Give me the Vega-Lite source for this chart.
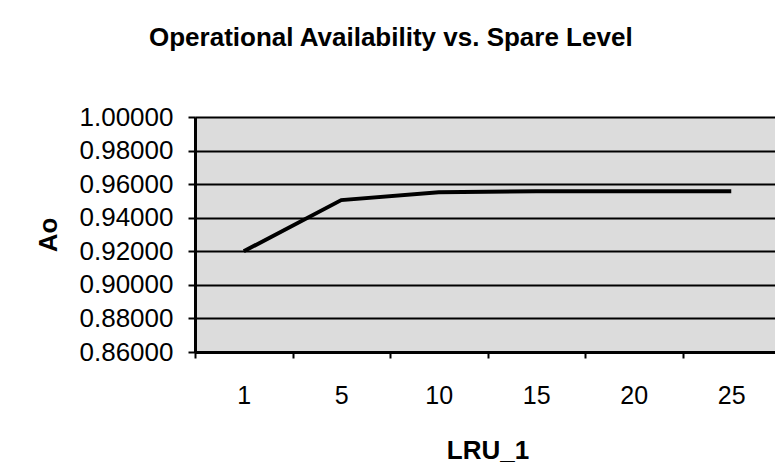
{
  "$schema": "https://vega.github.io/schema/vega-lite/v6.json",
  "autosize": "none",
  "padding": {"left": 195, "top": 117, "right": 0, "bottom": 123},
  "width": 585,
  "height": 235,
  "background": "white",
  "title": {
    "text": "Operational Availability vs. Spare Level",
    "anchor": "start",
    "frame": "group",
    "dx": -46,
    "offset": 32,
    "baseline": "alphabetic",
    "font": "Liberation Sans",
    "fontSize": 26,
    "fontWeight": "bold",
    "color": "black"
  },
  "config": {
    "view": {"fill": "#dcdcdc", "stroke": null},
    "font": "Liberation Sans"
  },
  "data": {
    "values": [
      {"LRU_1": 1, "Ao": 0.92},
      {"LRU_1": 5, "Ao": 0.9505},
      {"LRU_1": 10, "Ao": 0.9552},
      {"LRU_1": 15, "Ao": 0.9557},
      {"LRU_1": 20, "Ao": 0.9558},
      {"LRU_1": 25, "Ao": 0.9558}
    ]
  },
  "mark": {"type": "line", "color": "black", "strokeWidth": 4},
  "encoding": {
    "x": {
      "field": "LRU_1",
      "type": "ordinal",
      "sort": "ascending",
      "scale": {"paddingInner": 0, "paddingOuter": 0},
      "axis": {
        "title": "LRU_1",
        "labelAngle": 0,
        "tickBand": "extent",
        "tickSize": 6,
        "tickWidth": 2,
        "tickColor": "black",
        "domainColor": "black",
        "domainWidth": 3,
        "labelFont": "Liberation Sans",
        "labelFontSize": 25,
        "labelColor": "black",
        "labelPadding": 25,
        "titleFont": "Liberation Sans",
        "titleFontSize": 26,
        "titleFontWeight": "bold",
        "titleColor": "black",
        "titlePadding": 29,
        "grid": false
      }
    },
    "y": {
      "field": "Ao",
      "type": "quantitative",
      "scale": {"domain": [0.86, 1.0], "zero": false, "nice": false},
      "axis": {
        "title": "Ao",
        "values": [0.86, 0.88, 0.9, 0.92, 0.94, 0.96, 0.98, 1.0],
        "format": ".5f",
        "tickSize": 7,
        "tickWidth": 2,
        "tickColor": "black",
        "domainColor": "black",
        "domainWidth": 3,
        "grid": true,
        "gridColor": "black",
        "gridWidth": 2,
        "gridOpacity": 1,
        "labelFont": "Liberation Sans",
        "labelFontSize": 26,
        "labelColor": "black",
        "labelPadding": 15,
        "titleFont": "Liberation Sans",
        "titleFontSize": 26,
        "titleFontWeight": "bold",
        "titleColor": "black",
        "titlePadding": 18
      }
    }
  }
}
